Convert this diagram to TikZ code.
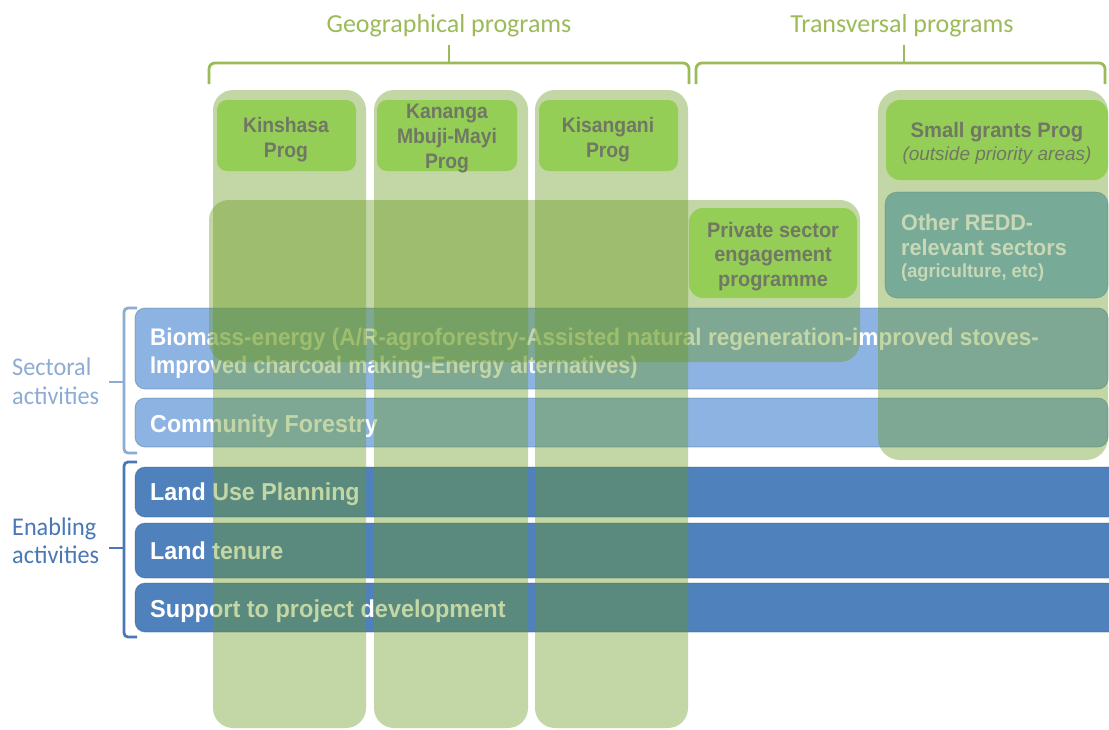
\documentclass[tikz,border=0pt]{standalone}
\usepackage{graphicx}
\usepackage{fontspec}
\setmainfont{Liberation Sans}
\newfontfamily\calibri{Carlito}

\definecolor{barlight}{RGB}{141,179,226}
\definecolor{bardark}{RGB}{79,129,189}
\definecolor{colgreen}{RGB}{105,153,30}
\definecolor{boxgreen}{RGB}{148,206,86}
\definecolor{boxteal}{RGB}{120,170,152}
\definecolor{progtext}{RGB}{112,120,100}
\definecolor{reddtext}{RGB}{200,216,182}
\definecolor{bracegreen}{RGB}{155,187,89}
\definecolor{sectblue}{RGB}{141,172,212}
\definecolor{enabblue}{RGB}{74,120,180}

% horizontally condensed text
\newcommand{\narrowtext}[2][0.92]{\scalebox{#1}[1]{#2}}

\tikzset{
  barlightbox/.style={fill=barlight, draw=bardark!60!black, draw opacity=0.35, line width=0.8pt, rounded corners=10pt},
  bardarkbox/.style={fill=bardark, draw=bardark!60!black, draw opacity=0.35, line width=0.8pt, rounded corners=10pt},
  column/.style={fill=colgreen, fill opacity=0.4, rounded corners=20pt},
  progbox/.style={fill=boxgreen, rounded corners=10pt},
  tealbox/.style={fill=boxteal, draw=boxteal!70!black, draw opacity=0.4, line width=0.6pt, rounded corners=12pt},
  bartext/.style={anchor=base west, inner sep=0pt, text=white, font=\bfseries\fontsize{24.5}{27}\selectfont},
  biotext/.style={bartext, font=\bfseries\fontsize{24}{27}\selectfont},
  progtxt/.style={anchor=base, inner sep=0pt, text=progtext, font=\bfseries\fontsize{21}{25}\selectfont},
  redd/.style={anchor=base west, inner sep=0pt, text=reddtext, font=\bfseries\fontsize{22.5}{25}\selectfont},
  bracelabel/.style={anchor=base, inner sep=0pt, text=bracegreen, font=\calibri\fontsize{26}{30}\selectfont},
  sidelabel/.style={anchor=base west, inner sep=0pt, font=\calibri\fontsize{25.5}{30}\selectfont},
  brace/.style={line width=2.8pt, rounded corners=6pt},
}

\begin{document}
\begin{tikzpicture}[x=1pt, y=-1pt]
\useasboundingbox (0,0) rectangle (1109,729);
\fill[white] (0,0) rectangle (1109,729);
\clip (0,0) rectangle (1109,729);

% activity bars
\path[barlightbox] (135,308) rectangle (1108,389);
\path[barlightbox] (135,398) rectangle (1108,447);
\path[bardarkbox] (135,467) rectangle (1125,517);
\path[bardarkbox] (135,523) rectangle (1125,578);
\path[bardarkbox] (135,583) rectangle (1125,632);

\node[biotext] (bio1) at (150,345) {\narrowtext[0.94]{Biomass-energy (A/R-agroforestry-Assisted natural regeneration-improved stoves-}};
\node[biotext] (bio2) at (150,373) {\narrowtext[0.9]{Improved charcoal making-Energy alternatives)}};
\node[bartext] (comm) at (150,432) {\narrowtext[0.95]{Community Forestry}};
\node[bartext] (landuse) at (150,500) {\narrowtext[0.95]{Land Use Planning}};
\node[bartext] (tenure) at (150,559) {\narrowtext[0.95]{Land tenure}};
\node[bartext] (support) at (150,617) {\narrowtext[0.96]{Support to project development}};

% translucent programme columns
\path[column] (213,90) rectangle (366,728);
\path[column] (374,90) rectangle (528,728);
\path[column] (535,90) rectangle (688,728);
\path[column] (209,200) rectangle (860,362);
\path[column, rounded corners=22pt] (878,90) rectangle (1108,460);

% programme boxes
\path[progbox] (217,100) rectangle (356,171);
\path[progbox] (377,100) rectangle (517,171);
\path[progbox] (539,100) rectangle (678,171);
\path[progbox, rounded corners=14pt] (689,208) rectangle (857,298);
\path[progbox, rounded corners=14pt] (886,100) rectangle (1108,180);
\path[tealbox] (885,192) rectangle (1108,298);

\node[progtxt] (kin1) at (286,132) {\narrowtext{Kinshasa}};
\node[progtxt] (kin2) at (286,157) {\narrowtext{Prog}};
\node[progtxt] (kan1) at (447,118) {\narrowtext{Kananga}};
\node[progtxt] (kan2) at (447,143) {\narrowtext{Mbuji-Mayi}};
\node[progtxt] (kan3) at (447,168) {\narrowtext{Prog}};
\node[progtxt] (kis1) at (608,132) {\narrowtext{Kisangani}};
\node[progtxt] (kis2) at (608,157) {\narrowtext{Prog}};
\node[progtxt] (priv1) at (773,237) {\narrowtext[0.95]{Private sector}};
\node[progtxt] (priv2) at (773,261) {\narrowtext[0.95]{engagement}};
\node[progtxt] (priv3) at (773,286) {\narrowtext[0.95]{programme}};
\node[progtxt] (sg1) at (997,137) {\narrowtext[0.96]{Small grants Prog}};
\node[progtxt, font=\itshape\fontsize{19}{22}\selectfont] (sg2) at (997,160) {(outside priority areas)};
\node[redd] (redd1) at (901,230) {\narrowtext[0.96]{Other REDD-}};
\node[redd] (redd2) at (901,255) {\narrowtext[0.96]{relevant sectors}};
\node[redd, font=\bfseries\fontsize{19}{22}\selectfont] (redd3) at (901,277) {\narrowtext[0.96]{(agriculture, etc)}};

% programme braces
\draw[brace, bracegreen] (209,84) -- (209,63) -- (689,63) -- (689,84);
\draw[line width=2.8pt, bracegreen] (449,63) -- (449,45);
\draw[brace, bracegreen] (696,84) -- (696,63) -- (1105,63) -- (1105,84);
\draw[line width=2.8pt, bracegreen] (904,63) -- (904,45);
\node[bracelabel] (geo) at (449,32) {Geographical programs};
\node[bracelabel] (trans) at (902,32) {Transversal programs};

% activity brackets
\draw[brace, sectblue, rounded corners=4pt] (137,308) -- (124,308) -- (124,453) -- (137,453);
\draw[line width=2.8pt, sectblue] (124,382) -- (109,382);
\draw[brace, enabblue, rounded corners=4pt] (137,462) -- (124,462) -- (124,637) -- (137,637);
\draw[line width=2.8pt, enabblue] (124,548) -- (109,548);
\node[sidelabel, text=sectblue] (sect1) at (12,375) {\narrowtext[0.95]{Sectoral}};
\node[sidelabel, text=sectblue] (sect2) at (12,404) {\narrowtext[0.95]{activities}};
\node[sidelabel, text=enabblue] (enab1) at (12,535) {\narrowtext[0.95]{Enabling}};
\node[sidelabel, text=enabblue] (enab2) at (12,563) {\narrowtext[0.95]{activities}};
\end{tikzpicture}
\end{document}
